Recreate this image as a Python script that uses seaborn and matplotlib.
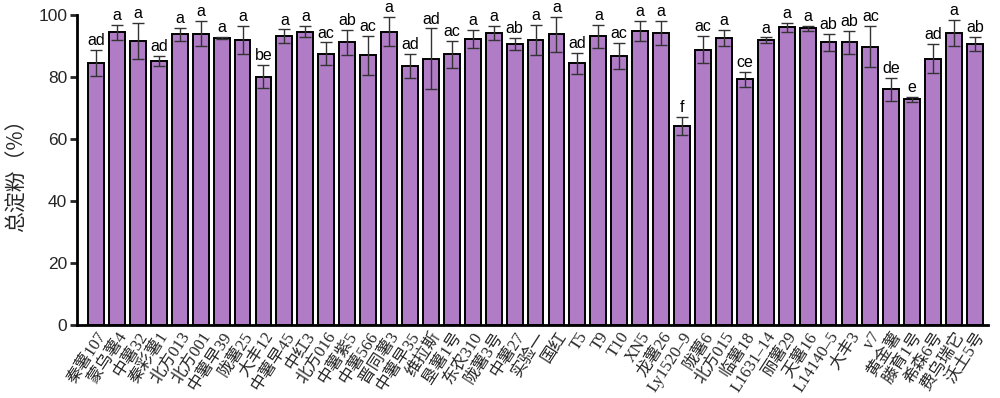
import matplotlib
matplotlib.use("Agg")
import matplotlib.pyplot as plt
import seaborn as sns
import pandas as pd
import numpy as np

varieties = ["秦薯107", "蒙乌薯4", "中薯32", "秦彩薯1", "北方013", "北方001", "中薯早39", "陇薯25",
             "大丰12", "中薯早45", "中红3", "北方016", "中薯紫5", "中薯566", "晋同薯3", "中薯早35",
             "维拉斯", "垦薯1号", "东农310", "陇薯3号", "中薯27", "实验一", "国红", "T5", "T9", "T10",
             "XN5", "龙薯26", "Ly1520–9", "陇薯6", "北方015", "临薯18", "L1631–14", "丽薯29", "天薯16",
             "L14140–5", "大丰3", "v7", "黄金薯", "滕育1号", "希森6号", "费乌瑞它", "沃土5号"]
starch = [84.6, 94.4, 91.7, 85.2, 93.8, 94.0, 92.7, 91.9, 80.2, 93.2, 94.7, 87.6, 91.2, 87.1,
          94.7, 83.6, 86.0, 87.4, 92.3, 94.2, 90.7, 91.9, 93.8, 84.4, 93.2, 86.8, 94.9, 94.2,
          64.3, 88.9, 92.7, 79.3, 91.9, 96.1, 95.7, 91.2, 91.2, 89.8, 76.1, 72.8, 86.0, 94.2, 90.7]
sd = [4.1, 2.3, 5.8, 1.7, 2.0, 4.1, 0.3, 4.6, 3.6, 2.2, 1.8, 3.6, 4.1, 6.3, 4.8, 3.8, 9.7, 4.3,
      2.8, 2.3, 1.9, 4.8, 5.6, 3.3, 3.7, 4.3, 3.3, 3.9, 3.0, 4.3, 2.5, 2.4, 0.9, 1.4, 0.8, 2.8,
      3.6, 6.6, 3.7, 0.8, 4.8, 4.2, 2.4]
letters = ["ad", "a", "a", "ad", "a", "a", "a", "a", "be", "a", "a", "ac", "ab", "ac", "a", "ad",
           "ad", "ac", "a", "a", "ab", "a", "a", "ad", "a", "ac", "a", "a", "f", "ac", "a", "ce",
           "a", "a", "a", "ab", "ab", "ac", "de", "e", "ad", "a", "ab"]

df = pd.DataFrame({"variety": varieties, "starch": starch, "sd": sd, "letter": letters})

sns.set_style("ticks")
plt.rcParams["font.family"] = ["Liberation Sans", "Noto Sans CJK SC", "DejaVu Sans"]

fig = plt.figure(figsize=(10, 3.98), dpi=100)
ax = fig.add_axes([0.077, 0.183, 0.911, 0.779])

sns.barplot(data=df, x="variety", y="starch", color="#B07CC6", saturation=1,
            edgecolor="black", linewidth=1.4, width=0.76, errorbar=None, ax=ax)

xpos = np.arange(len(df))
ax.errorbar(xpos, df["starch"], yerr=df["sd"], fmt="none", ecolor="#333333",
            elinewidth=1.0, capsize=4, capthick=1.0, zorder=5)

for x, v, e, lab in zip(xpos, df["starch"], df["sd"], df["letter"]):
    ax.text(x, v + e + 0.6, lab, ha="center", va="bottom", fontsize=11.5,
            family=["Liberation Sans", "DejaVu Sans"], color="black")

ax.set_ylim(0, 100)
ax.set_xlim(-0.91, len(df) - 1 + 0.62)
ax.set_yticks([0, 20, 40, 60, 80, 100])
ax.tick_params(axis="y", direction="out", length=5, width=2, labelsize=12.5, pad=2)
ax.tick_params(axis="x", length=0, pad=3)
ax.set_xticks(xpos)
ax.set_xticklabels(df["variety"], rotation=57, ha="right", rotation_mode="anchor",
                   fontsize=12, family=["Liberation Serif", "Noto Sans CJK SC", "DejaVu Sans"])
ax.set_xlabel("")
ax.set_ylabel("总淀粉（%）", fontsize=15, family=["Noto Sans CJK SC", "DejaVu Sans"], labelpad=8)

for s in ["top", "right"]:
    ax.spines[s].set_visible(False)
for s in ["left", "bottom"]:
    ax.spines[s].set_linewidth(2)
    ax.spines[s].set_color("black")

fig.savefig("out.png", dpi=100)
